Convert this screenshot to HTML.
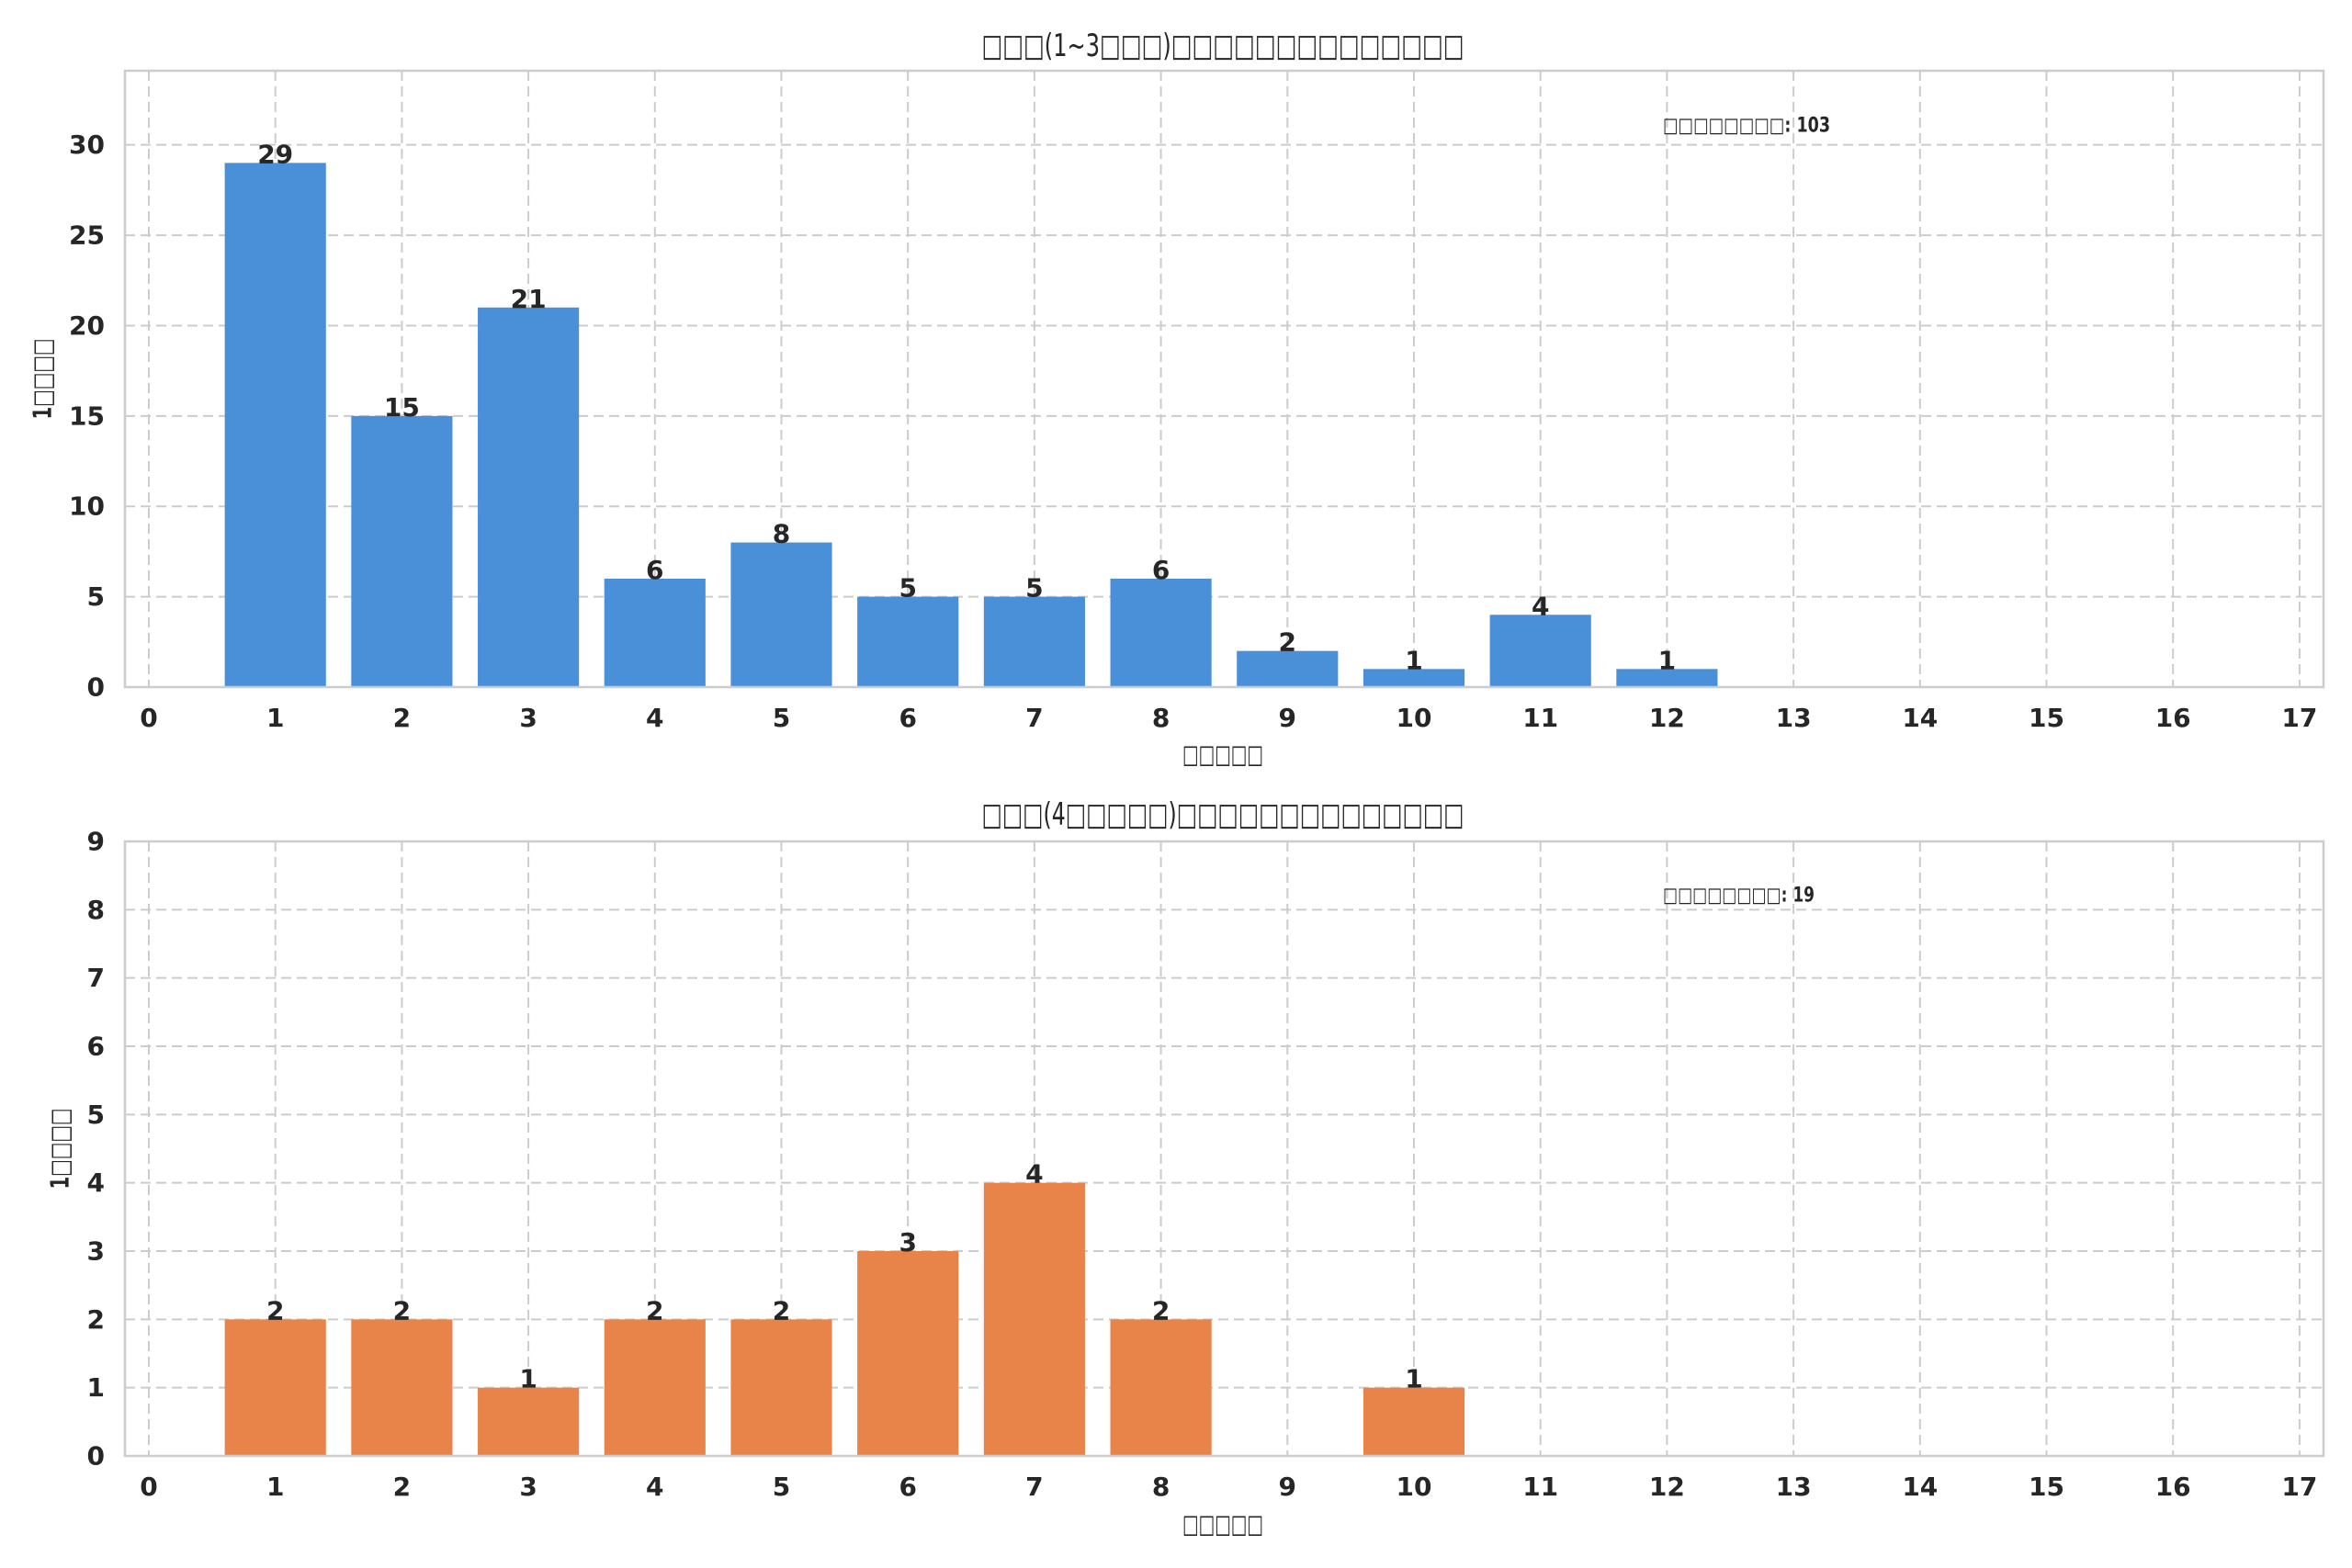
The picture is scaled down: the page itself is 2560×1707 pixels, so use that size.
<!DOCTYPE html>
<html><head><meta charset="utf-8"><style>
html,body{margin:0;padding:0;background:#fff;}
svg{display:block;}
text{font-family:"DejaVu Sans","Liberation Sans",sans-serif;fill:#262626;}
.tk{font-size:28px;font-weight:bold;}
.vl{font-size:28px;font-weight:bold;text-anchor:middle;}
.grid{stroke:#cccccc;stroke-width:2;stroke-dasharray:11,6;}
.sp{stroke:#cccccc;stroke-width:2.5;fill:none;}
</style></head><body>
<svg width="2560" height="1707" viewBox="0 0 2560 1707" xmlns="http://www.w3.org/2000/svg" id="s">
</svg>
<script>
const S=document.getElementById('s');const NS='http://www.w3.org/2000/svg';
function el(t,a,txt){const e=document.createElementNS(NS,t);for(const k in a)e.setAttribute(k,a[k]);if(txt!==undefined)e.textContent=txt;S.appendChild(e);return e;}
const X0=162,DX=137.7,L=136,R=2529;
function panel(top,bot,ymax,ystep,data,color,title,ty,xly,ylx,ann,anny){
  const sy=(bot-top)/ymax;const Y=v=>bot-v*sy;
  for(let v=0;v<=ymax+1e-9;v+=ystep){ if(v>0) el('line',{x1:L,x2:R,y1:Y(v),y2:Y(v),class:'grid'});
    el('text',{x:114,y:Y(v),class:'tk','text-anchor':'end','dominant-baseline':'central'},String(v));}
  for(let i=0;i<=17;i++){const x=X0+DX*i;el('line',{x1:x,x2:x,y1:top,y2:bot,class:'grid'});
    el('text',{x:x,y:bot+43,class:'tk','text-anchor':'middle'},String(i));}
  data.forEach((v,i)=>{if(!v)return;const x=X0+DX*(i+1);
    el('rect',{x:x-DX*0.4,y:Y(v),width:DX*0.8,height:v*sy,fill:color});
    el('text',{x:x,y:Y(v),class:'vl'},String(v));});
  el('rect',{x:L,y:top,width:R-L,height:bot-top,class:'sp'});
  el('text',{x:1331,y:ty,'font-size':'34','text-anchor':'middle','dominant-baseline':'central',textLength:525,lengthAdjust:'spacingAndGlyphs'},title);
  el('text',{x:1331,y:xly,'font-size':'28','text-anchor':'middle','dominant-baseline':'central',textLength:88,lengthAdjust:'spacingAndGlyphs'},'□□□□□');
  el('text',{x:ylx,y:(top+bot)/2,'font-size':'28','font-weight':'bold','text-anchor':'middle','dominant-baseline':'central',transform:`rotate(-90 ${ylx} ${(top+bot)/2})`,textLength:88,lengthAdjust:'spacingAndGlyphs'},'1□□□□');
  el('text',{x:1810,y:anny,'font-size':'22','font-weight':'bold','dominant-baseline':'central',textLength:ann.length>2?182:165,lengthAdjust:'spacingAndGlyphs'},'□□□□□□□□: '+ann);
}
panel(77,748,34.1,5,[29,15,21,6,8,5,5,6,2,1,4,1],'#4a90d9','□□□(1~3□□□)□□□□□□□□□□□□□□',50,821,46,'103',137);
panel(916,1585,9,1,[2,2,1,2,2,3,4,2,0,1,0,0],'#e8844a','□□□(4□□□□□)□□□□□□□□□□□□□□',887,1659,65,'19',975);
</script>
</body></html>
